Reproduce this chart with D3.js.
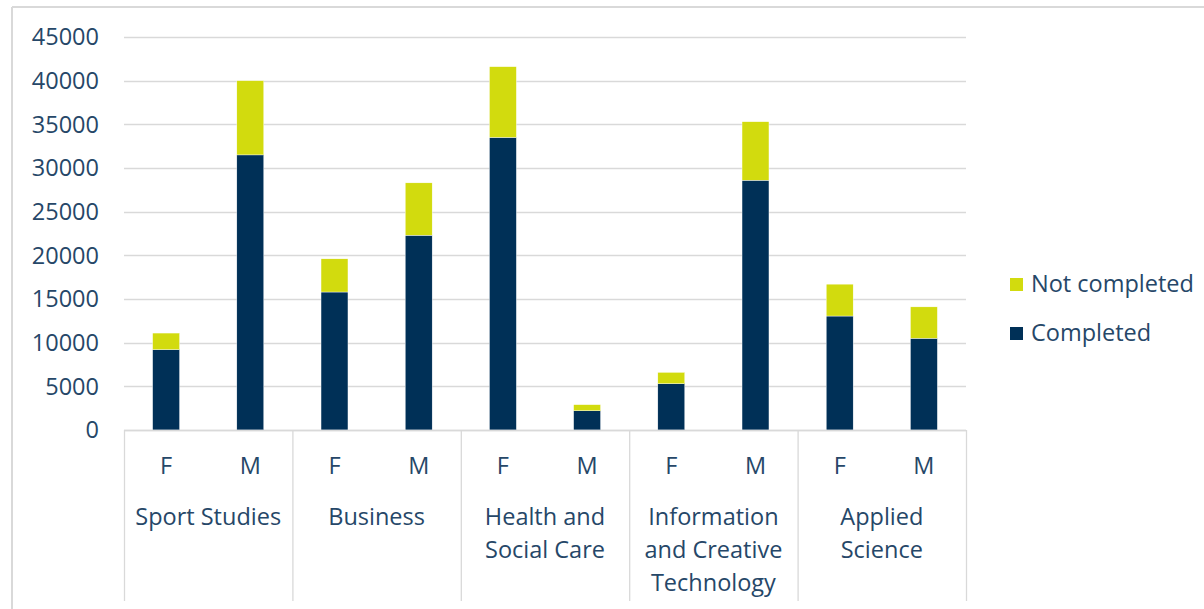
<!DOCTYPE html>
<html>
<head>
<meta charset="utf-8">
<script src="https://cdn.jsdelivr.net/npm/d3@7"></script>
<style>
  html, body { margin: 0; padding: 0; background: #fff; }
  svg { display: block; }
  text { font-family: "Open Sans", sans-serif; fill: #264768; }
</style>
</head>
<body>
<svg id="chart" width="1204" height="609"></svg>
<script>
const categories = ["Sport Studies", "Business", "Health and Social Care", "Information and Creative Technology", "Applied Science"];
const categoryLines = [["Sport Studies"], ["Business"], ["Health and", "Social Care"], ["Information", "and Creative", "Technology"], ["Applied", "Science"]];
const genders = ["F", "M"];
const completed =    [9200, 31500, 15800, 22300, 33500, 2200, 5300, 28600, 13050, 10500];
const notCompleted = [1900,  8500,  3800,  6000,  8100,  700, 1300,  6700,  3650,  3600];
const seriesNames = ["Completed", "Not completed"];
const seriesColors = ["#003057", "#d2db0e"];
const yTicks = [0, 5000, 10000, 15000, 20000, 25000, 30000, 35000, 40000, 45000];

(function () {
const FS = "23.5px";
const rows = [];
categories.forEach((c, ci) => genders.forEach((g, gi) => {
  const i = ci * 2 + gi;
  rows.push({ cat: c, g: g, "Completed": completed[i], "Not completed": notCompleted[i] });
}));

const svg = d3.select("#chart");
const mLeft = 124, mRight = 966, mTop = 37, mBottom = 430;

// chart border (top and left visible)
svg.append("line").attr("x1", 12).attr("x2", 1204).attr("y1", 7).attr("y2", 7)
  .attr("stroke", "#d9d9d9").attr("stroke-width", 2);
svg.append("line").attr("x1", 12).attr("x2", 12).attr("y1", 7).attr("y2", 609)
  .attr("stroke", "#d9d9d9").attr("stroke-width", 2);

const y = d3.scaleLinear().domain([0, 45000]).range([mBottom, mTop]);
const x0 = d3.scaleBand().domain(categories).range([mLeft, mRight]).padding(0);
const x1 = d3.scaleBand().domain(genders).range([0, x0.bandwidth()]).paddingInner(0.68).paddingOuter(0.34);

// gridlines
svg.append("g").selectAll("line").data(yTicks).join("line")
  .attr("x1", mLeft).attr("x2", mRight)
  .attr("y1", d => Math.round(y(d)) + 0.5).attr("y2", d => Math.round(y(d)) + 0.5)
  .attr("stroke", "#d9d9d9").attr("stroke-width", 1.3);

// y labels
svg.append("g").selectAll("text").data(yTicks).join("text")
  .attr("x", 99).attr("y", d => y(d)).attr("dy", "0.35em")
  .attr("text-anchor", "end").style("font-size", FS)
  .text(d => d);

// stacked bars
const stack = d3.stack().keys(seriesNames)(rows);
svg.append("g").selectAll("g").data(stack).join("g")
  .attr("fill", (d, i) => seriesColors[i])
  .selectAll("rect").data(d => d).join("rect")
  .attr("x", d => x0(d.data.cat) + x1(d.data.g))
  .attr("width", x1.bandwidth())
  .attr("y", d => y(d[1]))
  .attr("height", d => y(d[0]) - y(d[1]))
  .attr("stroke", "#ffffff").attr("stroke-width", 0.4);

// x axis line & separators
svg.append("line").attr("x1", mLeft).attr("x2", mRight).attr("y1", mBottom + 0.5).attr("y2", mBottom + 0.5)
  .attr("stroke", "#d9d9d9").attr("stroke-width", 1.3);
const seps = categories.map(c => x0(c)).concat([mRight]);
svg.append("g").selectAll("line").data(seps).join("line")
  .attr("x1", d => d + 0.5).attr("x2", d => d + 0.5)
  .attr("y1", mBottom).attr("y2", 601)
  .attr("stroke", "#d9d9d9").attr("stroke-width", 1.3);

// gender labels
svg.append("g").selectAll("text").data(rows).join("text")
  .attr("x", d => x0(d.cat) + x1(d.g) + x1.bandwidth() / 2)
  .attr("y", 466).attr("dy", "0.35em").attr("text-anchor", "middle")
  .style("font-size", FS).text(d => d.g);

// category labels
const catG = svg.append("g").selectAll("text").data(categories).join("text")
  .attr("x", d => x0(d) + x0.bandwidth() / 2)
  .attr("y", 517).attr("text-anchor", "middle").style("font-size", FS);
catG.each(function(d, i) {
  d3.select(this).selectAll("tspan").data(categoryLines[i]).join("tspan")
    .attr("x", x0(d) + x0.bandwidth() / 2)
    .attr("y", (t, j) => 517 + j * 33)
    .attr("dy", "0.35em")
    .text(t => t);
});

// legend
const legendItems = [{ name: "Not completed", color: seriesColors[1], y: 284 }, { name: "Completed", color: seriesColors[0], y: 333 }];
const lg = svg.append("g").selectAll("g").data(legendItems).join("g");
lg.append("rect").attr("x", 1010).attr("y", d => d.y - 6).attr("width", 13).attr("height", 13)
  .attr("fill", d => d.color);
lg.append("text").attr("x", 1031).attr("y", d => d.y).attr("dy", "0.35em")
  .style("font-size", FS).text(d => d.name);
})();
</script>
</body>
</html>
